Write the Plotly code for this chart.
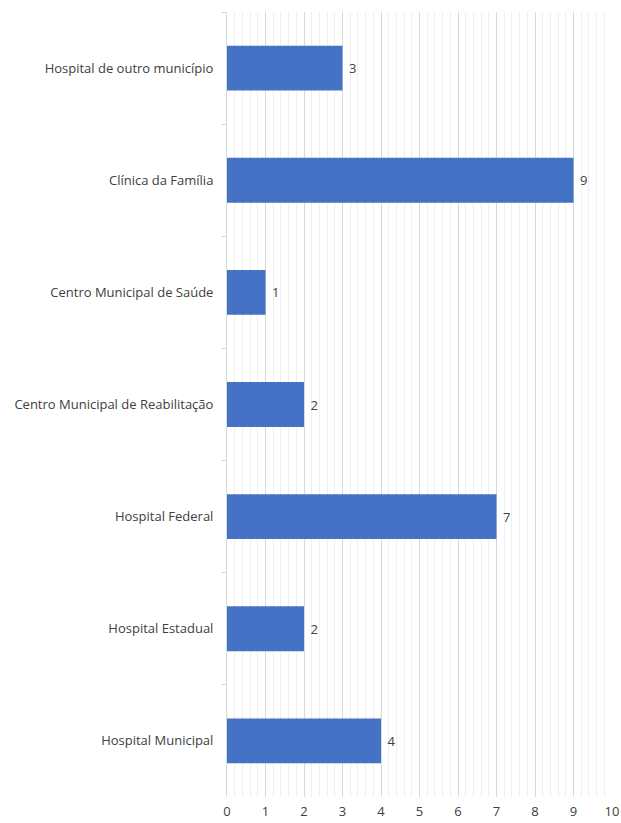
import plotly.graph_objects as go

# Categories listed top to bottom, with their counts
categories = [
    "Hospital de outro município",
    "Clínica da Família",
    "Centro Municipal de Saúde",
    "Centro Municipal de Reabilitação",
    "Hospital Federal",
    "Hospital Estadual",
    "Hospital Municipal",
]
counts = [3, 9, 1, 2, 7, 2, 4]
x_ticks = list(range(0, 11))

font_family = "Open Sans, Noto Sans, sans-serif"
text_color = "#404040"

fig = go.Figure(
    go.Bar(
        x=counts,
        y=categories,
        orientation="h",
        marker=dict(color="#4472C4", line=dict(width=0)),
        texttemplate="\u00a0%{x}",
        textposition="outside",
        textfont=dict(family=font_family, size=13, color=text_color),
        cliponaxis=False,
        width=0.4,
    )
)

fig.update_layout(
    width=621,
    height=823,
    margin=dict(l=227, r=9, t=12, b=26),
    paper_bgcolor="white",
    plot_bgcolor="white",
    showlegend=False,
    font=dict(family=font_family, size=13, color=text_color),
)

fig.update_xaxes(
    range=[0, 10],
    tickvals=x_ticks,
    automargin=False,
    showgrid=True,
    gridcolor="#d9d9d9",
    gridwidth=1,
    minor=dict(dtick=0.2, showgrid=True, gridcolor="#efefef", gridwidth=1),
    zeroline=False,
    showline=False,
    ticks="",
    ticklabelstandoff=5,
    tickfont=dict(family=font_family, size=13, color=text_color),
)

fig.update_yaxes(
    categoryorder="array",
    categoryarray=categories,
    autorange="reversed",
    automargin=False,
    showgrid=False,
    zeroline=False,
    showline=True,
    linecolor="#d9d9d9",
    linewidth=1,
    ticks="outside",
    tickson="boundaries",
    ticklen=5,
    tickcolor="#d9d9d9",
    ticklabelstandoff=10,
    tickfont=dict(family=font_family, size=13, color=text_color),
)

fig.write_html("out.html")
